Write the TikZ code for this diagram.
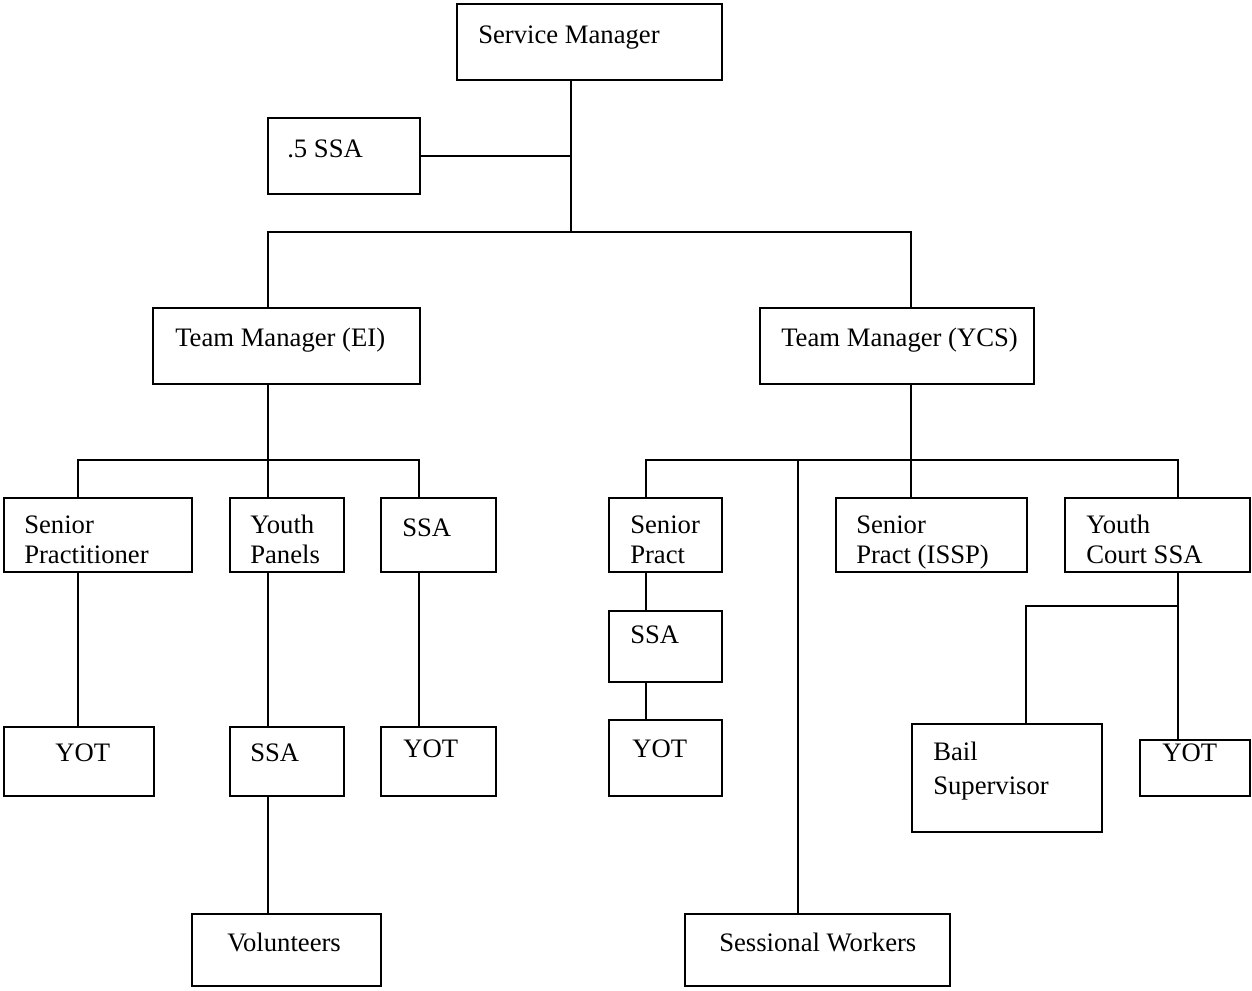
\documentclass[tikz,border=0pt]{standalone}
\usepackage{fontspec}
\setmainfont{Liberation Serif}
\usetikzlibrary{fit}
\begin{document}
\begin{tikzpicture}[x=0.75pt,y=-0.75pt,
  box/.style={draw,line width=1.3pt,inner sep=0pt},
  conn/.style={line width=1.3pt},
  lbl/.style={anchor=base west,inner sep=0pt,align=left,font=\fontsize{20}{22.5}\selectfont}]
\useasboundingbox (0,0) rectangle (1252,990);
% boxes
\node[box,fit={(457,4) (722,80)}] (sm) {};
\node[box,fit={(268,118) (420,194)}] (half) {};
\node[box,fit={(153,308) (420,384)}] (tmei) {};
\node[box,fit={(760,308) (1034,384)}] (tmycs) {};
\node[box,fit={(4,498) (192,572)}] (sp) {};
\node[box,fit={(230,498) (344,572)}] (yp) {};
\node[box,fit={(381,498) (496,572)}] (ssa1) {};
\node[box,fit={(4,727) (154,796)}] (yot1) {};
\node[box,fit={(230,727) (344,796)}] (ssa2) {};
\node[box,fit={(381,727) (496,796)}] (yot2) {};
\node[box,fit={(192,914) (381,986)}] (vol) {};
\node[box,fit={(609,498) (722,572)}] (spr) {};
\node[box,fit={(609,611) (722,682)}] (ssa3) {};
\node[box,fit={(609,720) (722,796)}] (yot3) {};
\node[box,fit={(836,498) (1027,572)}] (issp) {};
\node[box,fit={(1065,498) (1250,572)}] (ycs) {};
\node[box,fit={(912,724) (1102,832)}] (bail) {};
\node[box,fit={(1140,740) (1250,796)}] (yot4) {};
\node[box,fit={(685,914) (950,986)}] (sess) {};
% texts
\node[lbl] (tsm) at (478,43) {Service Manager};
\node[lbl] (thalf) at (287,157) {.5 SSA};
\node[lbl] (ttmei) at (175,346) {Team Manager (EI)};
\node[lbl] (ttmycs) at (781,346) {Team Manager (YCS)};
\node[lbl] (tsp) at (24,563) {Senior\\Practitioner};
\node[lbl] (typ) at (250,563) {Youth\\Panels};
\node[lbl] (tssa1) at (402,536) {SSA};
\node[lbl] (tyot1) at (55,761) {YOT};
\node[lbl] (tssa2) at (250,761) {SSA};
\node[lbl] (tyot2) at (403,757) {YOT};
\node[lbl] (tvol) at (227,951) {Volunteers};
\node[lbl] (tspr) at (630,563) {Senior\\Pract};
\node[lbl] (tssa3) at (630,643) {SSA};
\node[lbl] (tyot3) at (632,757) {YOT};
\node[lbl] (tissp) at (856,563) {Senior\\Pract (ISSP)};
\node[lbl] (tycs) at (1086,563) {Youth\\Court SSA};
\node[lbl] (tbail) at (933,794) {Bail\\[3pt]Supervisor};
\node[lbl] (tyot4) at (1162,761) {YOT};
\node[lbl] (tsess) at (719,951) {Sessional Workers};
% junctions
\coordinate (t1) at (571,232);
\coordinate (b1) at (268,232);
\coordinate (b2) at (911,232);
\coordinate (e0) at (268,460);
\coordinate (e1) at (78,460);
\coordinate (e3) at (419,460);
\coordinate (y0) at (911,460);
\coordinate (y1) at (646,460);
\coordinate (y2) at (798,460);
\coordinate (y4) at (1178,460);
\coordinate (c1) at (1178,606);
\coordinate (c2) at (1026,606);
% connectors
\draw[conn] (sm.south -| t1) -- (t1);
\draw[conn] (half.east) -- (half.east -| t1);
\draw[conn] (tmei.north -| b1) -- (b1) -- (b2) -- (tmycs.north -| b2);
\draw[conn] (tmei.south -| e0) -- (e0);
\draw[conn] (sp.north -| e1) -- (e1) -- (e3) -- (ssa1.north -| e3);
\draw[conn] (yp.north -| e0) -- (e0);
\draw[conn] (sp.south -| e1) -- (yot1.north -| e1);
\draw[conn] (yp.south -| e0) -- (ssa2.north -| e0);
\draw[conn] (ssa2.south -| e0) -- (vol.north -| e0);
\draw[conn] (ssa1.south -| e3) -- (yot2.north -| e3);
\draw[conn] (tmycs.south -| y0) -- (y0);
\draw[conn] (spr.north -| y1) -- (y1) -- (y4) -- (ycs.north -| y4);
\draw[conn] (issp.north -| y0) -- (y0);
\draw[conn] (y2) -- (sess.north -| y2);
\draw[conn] (spr.south -| y1) -- (ssa3.north -| y1);
\draw[conn] (ssa3.south -| y1) -- (yot3.north -| y1);
\draw[conn] (ycs.south -| c1) -- (yot4.north -| c1);
\draw[conn] (c1) -- (c2) -- (bail.north -| c2);
\end{tikzpicture}
\end{document}
